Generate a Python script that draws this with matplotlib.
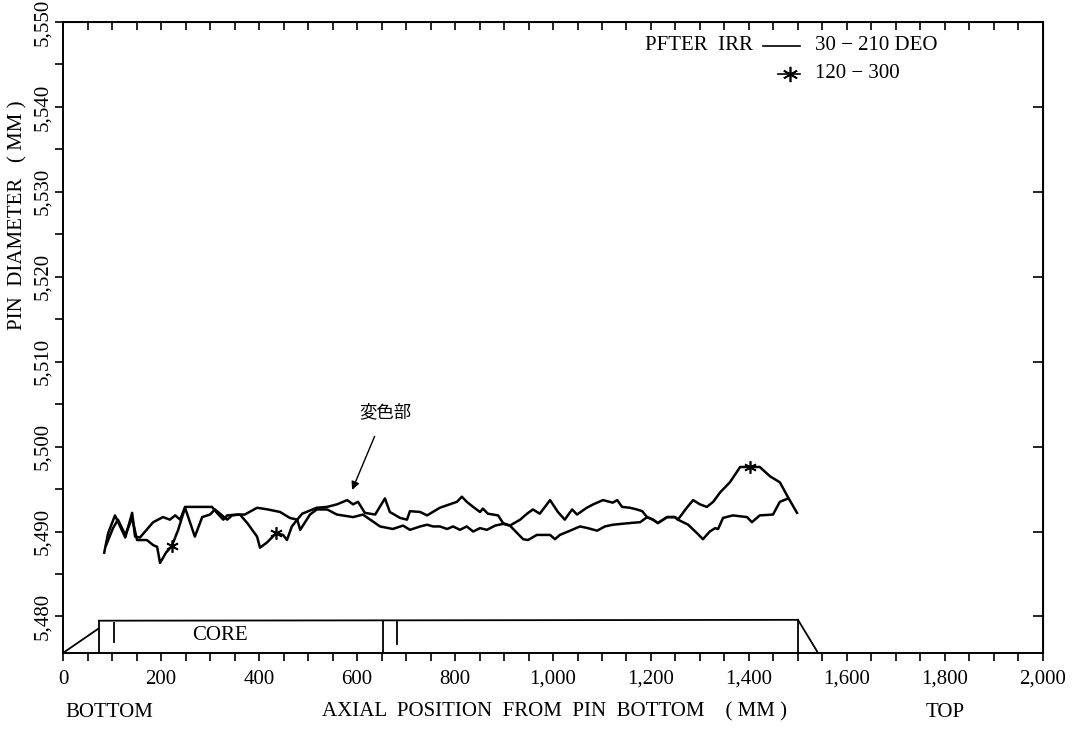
import numpy as np
import matplotlib
matplotlib.use('Agg')
import matplotlib.pyplot as plt
from matplotlib.ticker import MultipleLocator, FuncFormatter

plt.rcParams['font.family'] = ['Liberation Serif', 'Noto Sans CJK JP', 'DejaVu Sans']

# 30-210 DEO (solid)
pos_a = [84, 92, 106, 127, 141, 147, 157, 184, 204, 218, 229, 239, 249, 304, 314, 327, 335, 355, 371, 396,
         418, 443, 463, 478, 488, 518, 539, 559, 580, 592, 602, 616, 637, 657, 667, 688, 702, 708, 729, 743,
         769, 804, 814, 824, 837, 851, 857, 867, 888, 898, 912, 933, 947, 959, 973, 994, 1010, 1024, 1039, 1049,
         1069, 1082, 1102, 1122, 1131, 1141, 1157, 1171, 1182, 1192, 1204, 1214, 1233, 1249, 1255, 1276, 1294,
         1306, 1320, 1331, 1337, 1347, 1367, 1396, 1406, 1422, 1449, 1463, 1480]
dia_a = [5.4875, 5.4898, 5.4919, 5.4893, 5.4922, 5.4894, 5.4893, 5.4911, 5.4917, 5.4914, 5.4919, 5.4914,
         5.4929, 5.4929, 5.4922, 5.4914, 5.4919, 5.4920, 5.4920, 5.4928, 5.4926, 5.4923, 5.4916, 5.4914,
         5.4921, 5.4928, 5.4929, 5.4932, 5.4937, 5.4932, 5.4935, 5.4922, 5.4920, 5.4939, 5.4923, 5.4916,
         5.4914, 5.4924, 5.4923, 5.4919, 5.4928, 5.4935, 5.4941, 5.4935, 5.4929, 5.4923, 5.4927, 5.4921,
         5.4919, 5.4910, 5.4907, 5.4914, 5.4921, 5.4926, 5.4921, 5.4937, 5.4923, 5.4914, 5.4926, 5.4920,
         5.4928, 5.4932, 5.4937, 5.4934, 5.4937, 5.4929, 5.4928, 5.4926, 5.4924, 5.4917, 5.4914, 5.4910,
         5.4917, 5.4917, 5.4914, 5.4908, 5.4898, 5.4891, 5.4900, 5.4904, 5.4903, 5.4916, 5.4919, 5.4917,
         5.4911, 5.4919, 5.4920, 5.4935, 5.4939]

# 120-300 (with star marks)
pos_b = [88, 102, 112, 127, 141, 151, 171, 184, 192, 198, 210, 222, 235, 249, 269, 284, 300, 310, 335, 345,
         361, 376, 396, 402, 416, 435, 449, 457, 467, 478, 484, 504, 518, 539, 559, 592, 612, 627, 647, 673,
         694, 708, 729, 743, 755, 769, 784, 796, 810, 824, 837, 851, 865, 882, 898, 912, 939, 949, 967, 994,
         1004, 1014, 1039, 1055, 1071, 1090, 1106, 1122, 1157, 1178, 1192, 1204, 1214, 1233, 1249, 1255, 1273,
         1286, 1300, 1314, 1327, 1341, 1361, 1382, 1402, 1422, 1443, 1463, 1480, 1498]
dia_b = [5.4884, 5.4904, 5.4914, 5.4896, 5.4916, 5.4890, 5.4890, 5.4884, 5.4882, 5.4863, 5.4875, 5.4883,
         5.4902, 5.4928, 5.4894, 5.4917, 5.4920, 5.4926, 5.4914, 5.4919, 5.4920, 5.4910, 5.4894, 5.4881,
         5.4887, 5.4898, 5.4896, 5.4890, 5.4906, 5.4914, 5.4902, 5.4920, 5.4926, 5.4926, 5.4920, 5.4917,
         5.4920, 5.4914, 5.4906, 5.4903, 5.4907, 5.4902, 5.4906, 5.4908, 5.4906, 5.4906, 5.4903, 5.4906,
         5.4902, 5.4906, 5.4900, 5.4904, 5.4902, 5.4907, 5.4909, 5.4907, 5.4891, 5.4890, 5.4896, 5.4896,
         5.4891, 5.4896, 5.4902, 5.4906, 5.4904, 5.4901, 5.4906, 5.4908, 5.4910, 5.4911, 5.4917, 5.4914,
         5.4910, 5.4917, 5.4917, 5.4914, 5.4928, 5.4937, 5.4932, 5.4929, 5.4935, 5.4946, 5.4958, 5.4976,
         5.4976, 5.4976, 5.4965, 5.4958, 5.4940, 5.4922]
star_pos = [222, 435, 1402]

# pin outline (mm, mm-diameter scale)
pin_x = [0, 73, 73, 1500, 1500, 1541]
pin_y = [5.4757, 5.4786, 5.4795, 5.4796, 5.4757, 5.4757]
pin_marks = [104, 653, 682]

fs = 15
fig = plt.figure(figsize=(10.74, 7.29), dpi=100)
ax = fig.add_axes([0.0587, 0.1043, 0.9124, 0.8655])

ax.plot(pos_a, dia_a, color='black', lw=1.8)
ax.plot(pos_b, dia_b, color='black', lw=1.8, marker=(6, 2, 0), ms=9, mew=1.2,
        markevery=[pos_b.index(p) for p in star_pos])

# pin schematic
ax.plot(pin_x[:2], pin_y[:2], color='black', lw=1.3)
ax.plot([pin_x[1], pin_x[1]], [pin_y[4], pin_y[2]], color='black', lw=1.3)
ax.plot(pin_x[2:4], pin_y[2:4], color='black', lw=1.3)
ax.plot([pin_x[3], pin_x[4]], [pin_y[3], pin_y[4]], color='black', lw=1.3)
ax.plot([pin_x[3], pin_x[5]], [pin_y[3], pin_y[5]], color='black', lw=1.3)
ax.plot([pin_marks[0]] * 2, [5.4770, 5.4792], color='black', lw=1.3)
ax.plot([pin_marks[1]] * 2, [5.4757, 5.4795], color='black', lw=1.3)
ax.plot([pin_marks[2]] * 2, [5.4767, 5.4794], color='black', lw=1.3)
ax.text(320, 5.4777, 'CORE', ha='center', va='center', fontsize=fs)

# legend
ax.text(1188, 5.5472, 'PFTER  IRR', ha='left', va='center', fontsize=fs)
ax.plot([1429, 1504], [5.5472, 5.5472], color='black', lw=1.2)
ax.text(1535, 5.5472, '30 − 210 DEO', ha='left', va='center', fontsize=fs)
ax.plot([1459, 1504], [5.5439, 5.5439], color='black', lw=1.2)
ax.plot([1484], [5.5439], color='black', marker=(6, 2, 0), ms=11, mew=1.2)
ax.text(1535, 5.5439, '120 − 300', ha='left', va='center', fontsize=fs)

# annotation
ax.annotate('変色部', xy=(590, 5.4949), xytext=(657, 5.5041), ha='center', va='center',
            fontsize=12.5, family=['Noto Sans CJK JP'],
            arrowprops=dict(arrowstyle='-|>', color='black', lw=1.0, shrinkA=10, shrinkB=0,
                            mutation_scale=12))

ax.set_xlim(0, 2000)
ax.set_ylim(5.4757, 5.550)
ax.xaxis.set_major_locator(MultipleLocator(200))
ax.xaxis.set_minor_locator(MultipleLocator(50))
ax.yaxis.set_major_locator(MultipleLocator(0.01))
ax.yaxis.set_minor_locator(MultipleLocator(0.005))
ax.xaxis.set_major_formatter(FuncFormatter(lambda v, p: f'{v:,.0f}'))
ax.yaxis.set_major_formatter(FuncFormatter(lambda v, p: f'{v:.3f}'.replace('.', ',')))
ax.tick_params(axis='x', which='both', direction='out', length=6, width=1.2, labelsize=fs, pad=6)
ax.tick_params(axis='y', which='both', direction='out', length=6, width=1.2, labelsize=fs, pad=2)
for lab in ax.get_yticklabels():
    lab.set_rotation(90)
    lab.set_va('center')
for sp in ax.spines.values():
    sp.set_linewidth(1.4)

# top / right ticks point inward
axt = ax.secondary_xaxis('top')
axt.xaxis.set_major_locator(MultipleLocator(50))
axt.tick_params(direction='in', length=6, width=1.2, labeltop=False)
axr = ax.secondary_yaxis('right')
axr.yaxis.set_major_locator(MultipleLocator(0.01))
axr.tick_params(direction='in', length=7, width=1.2, labelright=False)

fig.text(0.5167, 0.0233, 'AXIAL  POSITION  FROM  PIN  BOTTOM    ( MM )', ha='center', va='center', fontsize=fs)
fig.text(0.061, 0.0233, 'BOTTOM', ha='left', va='center', fontsize=fs)
fig.text(0.880, 0.0233, 'TOP', ha='center', va='center', fontsize=fs)
fig.text(0.0168, 0.705, 'PIN  DIAMETER   ( MM )', ha='center', va='center', rotation=90, fontsize=fs)

fig.savefig('out.png', dpi=100)
